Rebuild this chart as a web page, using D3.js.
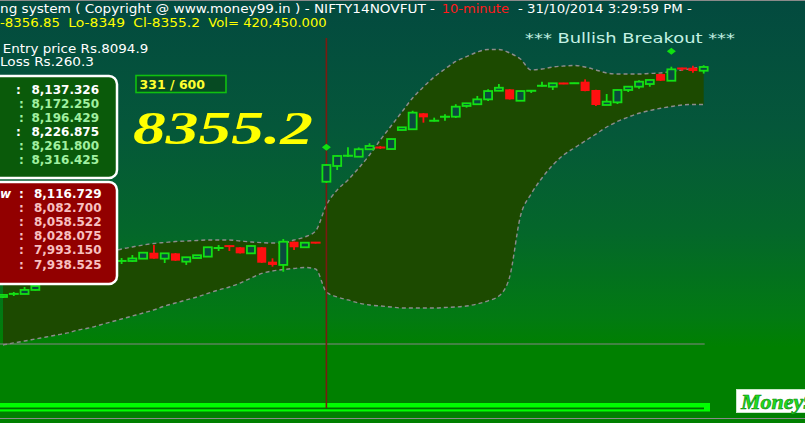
<!DOCTYPE html>
<html><head><meta charset="utf-8">
<script src="https://cdn.jsdelivr.net/npm/d3@7"></script>
<style>html,body{margin:0;padding:0;background:#008000;overflow:hidden}svg{display:block}</style>
</head><body>
<svg id="c" width="805" height="423"></svg>
<script>
// ---------- DATA ----------
const opens = [
8139.1, 8141.9, 8141.9, 8145.7, 8151.5, 8154.0, 8156.5, 8155.0, 8159.5, 8162.5,
8166.0, 8172.9, 8172.9, 8175.1, 8180.7, 8175.1, 8180.1, 8172.3, 8175.7, 8177.0,
8185.0, 8187.0, 8185.8, 8180.1, 8185.8, 8172.3, 8169.2, 8191.0, 8185.8, 8190.5,
8247.4, 8262.2, 8271.6, 8270.9, 8277.9, 8280.0, 8278.1, 8296.0, 8296.7, 8311.7,
8304.5, 8308.3, 8308.5, 8318.6, 8320.2, 8324.8, 8332.9, 8334.2, 8323.5, 8332.6,
8337.3, 8336.7, 8340.2, 8339.7, 8341.4, 8333.6, 8319.5, 8322.0, 8333.6, 8336.7,
8339.2, 8348.6, 8342.3, 8354.3, 8354.5, 8351.7];
const highs = [
8141.9, 8143.8, 8148.5, 8150.0, 8155.0, 8157.5, 8158.0, 8160.5, 8164.0, 8167.0,
8171.5, 8175.7, 8178.5, 8181.4, 8187.9, 8180.4, 8180.4, 8176.7, 8178.5, 8186.1,
8187.9, 8187.5, 8186.0, 8187.5, 8186.0, 8175.4, 8193.6, 8191.2, 8190.4, 8190.8,
8264.1, 8272.5, 8279.7, 8279.6, 8283.5, 8281.0, 8287.8, 8298.7, 8314.1, 8312.0,
8307.6, 8310.8, 8320.2, 8321.4, 8328.0, 8334.2, 8339.2, 8334.4, 8332.8, 8333.3,
8341.4, 8340.2, 8340.4, 8340.4, 8343.6, 8333.8, 8329.8, 8334.1, 8337.0, 8342.7,
8343.3, 8348.8, 8355.5, 8354.5, 8356.4, 8356.85];
const lows = [
8138.1, 8140.0, 8141.9, 8145.2, 8151.0, 8153.0, 8154.0, 8154.5, 8158.5, 8161.5,
8165.0, 8170.1, 8172.0, 8174.8, 8175.1, 8171.0, 8173.0, 8169.2, 8175.5, 8176.7,
8182.3, 8182.3, 8180.0, 8179.5, 8171.0, 8167.6, 8162.8, 8183.3, 8185.6, 8189.3,
8246.2, 8258.4, 8270.6, 8270.6, 8277.7, 8278.1, 8277.8, 8295.8, 8296.5, 8302.9,
8304.0, 8304.7, 8307.3, 8317.0, 8320.0, 8323.2, 8332.6, 8324.6, 8323.3, 8330.8,
8336.9, 8333.6, 8339.0, 8339.5, 8332.4, 8318.6, 8319.3, 8320.4, 8331.7, 8334.8,
8336.7, 8342.1, 8342.1, 8351.7, 8349.8, 8349.0];
const closes = [
8141.0, 8142.1, 8145.7, 8149.4, 8154.0, 8156.5, 8155.0, 8159.5, 8162.5, 8166.0,
8170.0, 8173.0, 8175.3, 8180.7, 8175.1, 8180.1, 8173.2, 8176.4, 8178.3, 8185.8,
8185.2, 8186.8, 8180.1, 8187.0, 8171.3, 8169.2, 8191.0, 8185.8, 8190.1, 8189.8,
8263.1, 8271.6, 8272.0, 8277.9, 8281.0, 8279.1, 8287.5, 8298.5, 8312.3, 8307.9,
8304.9, 8308.6, 8317.9, 8321.1, 8324.8, 8332.6, 8335.7, 8324.8, 8332.6, 8333.1,
8337.8, 8339.9, 8339.2, 8340.2, 8332.6, 8319.5, 8322.6, 8333.6, 8336.7, 8341.4,
8343.0, 8342.3, 8353.0, 8353.3, 8351.4, 8355.2];
const bandUpper = [
8155.1, 8156.9, 8158.8, 8160.7, 8163.5, 8166.3, 8169.2, 8172.0, 8175.7, 8178.5,
8181.4, 8184.2, 8186.1, 8187.9, 8189.4, 8190.3, 8191.2, 8191.7, 8192.2, 8192.6,
8192.6, 8192.6, 8191.7, 8190.8, 8190.1, 8189.8, 8189.8, 8192.6, 8195.5, 8201.1,
8225.5, 8239.6, 8249.0, 8260.3, 8272.5, 8286.6, 8299.8, 8312.9, 8326.1, 8336.4,
8345.8, 8353.3, 8360.4, 8364.9, 8369.3, 8371.7, 8371.7, 8368.4, 8362.7, 8352.4,
8353.3, 8355.2, 8356.1, 8356.6, 8355.2, 8352.4, 8349.6, 8348.6, 8348.6, 8348.6,
8349.1, 8349.6, 8351.0, 8352.4, 8353.8, 8355.5];
const bandLower = [
8094.0, 8095.9, 8097.7, 8099.6, 8101.5, 8103.4, 8105.3, 8108.1, 8110.0, 8112.8,
8115.6, 8118.4, 8121.2, 8124.0, 8126.9, 8130.6, 8133.4, 8136.3, 8139.1, 8142.4,
8145.7, 8148.5, 8152.2, 8156.9, 8161.2, 8163.5, 8164.9, 8165.9, 8166.8, 8165.4,
8143.8, 8139.1, 8136.3, 8133.4, 8131.6, 8130.6, 8129.7, 8128.7, 8128.7, 8128.7,
8128.7, 8129.2, 8129.7, 8130.6, 8132.5, 8135.5, 8140.0, 8158.0, 8215.0, 8236.0,
8250.9, 8263.1, 8272.5, 8279.1, 8285.7, 8292.2, 8298.8, 8304.0, 8308.2, 8311.7,
8314.3, 8316.4, 8318.1, 8319.5, 8320.0, 8320.0];
const entryPrice = 8094.9;
const lastClose = 8355.2;
const breakoutIndex = 30;
const signalIndex = [30, 62];
const signalPrice = [8279.7, 8369.9];
const targetValues = ["8,137.326", "8,172.250", "8,196.429", "8,226.875", "8,261.800", "8,316.425"];
const targetHighlight = [true, false, false, true, false, false];
const stopValues = ["8,116.729", "8,082.700", "8,058.522", "8,028.075", "7,993.150", "7,938.525"];
const stopHighlight = [true, false, false, false, false, false];

// ---------- SETUP ----------
const W = 805, H = 423;
const svg = d3.select("#c");
const n = closes.length;
const x = d3.scaleLinear().domain([0, n - 1]).range([3, 703.7]);
const y = d3.scaleLinear().domain([entryPrice, lastClose]).range([344, 67]);
const FONT = "'DejaVu Sans', Verdana, sans-serif";

const defs = svg.append("defs");
const bg = defs.append("linearGradient").attr("id", "bg")
  .attr("gradientUnits", "userSpaceOnUse").attr("x1", 0).attr("y1", 0).attr("x2", 0).attr("y2", H);
[[0, "#034a3f"], [0.3, "#05573a"], [0.55, "#04672a"], [0.75, "#027a12"], [0.82, "#008000"], [1, "#008000"]]
  .forEach(([o, c]) => bg.append("stop").attr("offset", o).attr("stop-color", c));

svg.append("rect").attr("width", W).attr("height", H).attr("fill", "url(#bg)");
svg.append("line").attr("x1", 0).attr("x2", W).attr("y1", 0.5).attr("y2", 0.5).attr("stroke", "#8a8a8a");

// ---------- BAND ----------
const idx = d3.range(n);
const area = d3.area().x(i => x(i)).y0(i => y(bandLower[i])).y1(i => y(bandUpper[i])).curve(d3.curveMonotoneX);
svg.append("path").attr("d", area(idx)).attr("fill", "#1c4a00");
const lineU = d3.line().x(i => x(i)).y(i => y(bandUpper[i])).curve(d3.curveMonotoneX);
const lineL = d3.line().x(i => x(i)).y(i => y(bandLower[i])).curve(d3.curveMonotoneX);
[lineU, lineL].forEach(l => svg.append("path").attr("d", l(idx)).attr("fill", "none")
  .attr("stroke", "#8c8c8c").attr("stroke-width", 1.4).attr("stroke-dasharray", "4,3"));

// entry line
svg.append("line").attr("x1", 0).attr("x2", x(n - 1) + 1).attr("y1", y(entryPrice)).attr("y2", y(entryPrice))
  .attr("stroke", "#858585").attr("stroke-width", 1);

// bottom bars
svg.append("rect").attr("x", 0).attr("y", 403).attr("width", 710).attr("height", 8.5).attr("fill", "#00ff00");
svg.append("rect").attr("x", 0).attr("y", 407.5).attr("width", 704).attr("height", 1.8).attr("fill", "#007000");
svg.append("line").attr("x1", 0).attr("x2", W).attr("y1", 418.5).attr("y2", 418.5).attr("stroke", "#8a8a8a");

// vertical breakout line
svg.append("line").attr("x1", x(breakoutIndex)).attr("x2", x(breakoutIndex)).attr("y1", 38).attr("y2", 408)
  .attr("stroke", "#7a1a10").attr("stroke-width", 1.6);

// ---------- CANDLES ----------
const cg = svg.append("g");
idx.forEach(i => {
  const up = closes[i] >= opens[i];
  const col = up ? "#14e014" : "#ff1010";
  const cx = x(i);
  cg.append("line").attr("x1", cx).attr("x2", cx).attr("y1", y(highs[i])).attr("y2", y(lows[i]))
    .attr("stroke", col).attr("stroke-width", 1.8);
  const top = y(Math.max(opens[i], closes[i])), bot = y(Math.min(opens[i], closes[i]));
  const h = bot - top;
  if (h < 2) {
    cg.append("line").attr("x1", cx - 5).attr("x2", cx + 5).attr("y1", (top + bot) / 2).attr("y2", (top + bot) / 2)
      .attr("stroke", col).attr("stroke-width", 2);
  } else if (up) {
    cg.append("rect").attr("x", cx - 4).attr("y", top).attr("width", 8).attr("height", h)
      .attr("fill", "#0a4a3e").attr("stroke", col).attr("stroke-width", 1.8);
  } else {
    cg.append("rect").attr("x", cx - 4.5).attr("y", top).attr("width", 9).attr("height", h).attr("fill", col);
  }
});
// signal diamonds
signalIndex.forEach((si, k) => {
  const cx = x(si), cy = y(signalPrice[k]);
  svg.append("path").attr("d", `M${cx - 4.5},${cy}L${cx},${cy - 3.5}L${cx + 4.5},${cy}L${cx},${cy + 3.5}Z`).attr("fill", "#10e010");
});

// ---------- PANELS ----------
svg.append("rect").attr("x", -20).attr("y", 76).attr("width", 137).attr("height", 102).attr("rx", 8)
  .attr("fill", "#0a5a0a").attr("stroke", "#ffffff").attr("stroke-width", 2.5);
targetValues.forEach((v, k) => {
  const by = 93.5 + k * 14;
  const col = targetHighlight[k] ? "#ffffff" : "#a0f0a0";
  svg.append("text").attr("x", targetHighlight[k] ? 16 : 19).attr("y", by).text(":")
    .attr("fill", col).attr("font-family", FONT).attr("font-weight", "bold").attr("font-size", 12);
  svg.append("text").attr("x", 99).attr("y", by).attr("text-anchor", "end").text(v)
    .attr("fill", col).attr("font-family", FONT).attr("font-weight", "bold").attr("font-size", 12);
});
svg.append("rect").attr("x", -20).attr("y", 182).attr("width", 137).attr("height", 102).attr("rx", 8)
  .attr("fill", "#920000").attr("stroke", "#ffffff").attr("stroke-width", 2.5);
stopValues.forEach((v, k) => {
  const by = 197.5 + k * 14.2;
  const col = stopHighlight[k] ? "#ffffff" : "#f8c0c0";
  if (k === 0) svg.append("text").attr("x", 0).attr("y", by).text("w")
    .attr("fill", col).attr("font-family", FONT).attr("font-weight", "bold").attr("font-size", 12).attr("font-style", "italic");
  svg.append("text").attr("x", 19).attr("y", by).text(":")
    .attr("fill", col).attr("font-family", FONT).attr("font-weight", "bold").attr("font-size", 12);
  svg.append("text").attr("x", 101.5).attr("y", by).attr("text-anchor", "end").text(v)
    .attr("fill", col).attr("font-family", FONT).attr("font-weight", "bold").attr("font-size", 12);
});

// ---------- TEXTS ----------
function txt(s, xx, yy, col, size, len, extra) {
  const t = svg.append("text").attr("x", xx).attr("y", yy).text(s).attr("fill", col)
    .attr("font-family", FONT).attr("font-size", size).style("white-space", "pre");
  if (len) t.attr("textLength", len).attr("lengthAdjust", "spacingAndGlyphs");
  if (extra) extra(t);
  return t;
}
txt("ng system ( Copyright @ www.money99.in ) - NIFTY14NOVFUT -", 0, 13, "#ffffff", 12.5, 435);
txt("10-minute", 441.7, 13, "#ff1a1a", 12.5, 67.3);
txt("- 31/10/2014 3:29:59 PM -", 518, 13, "#ffffff", 12.5, 173.7);
txt("-8356.85", 0, 26.5, "#ffff00", 12.5, 60);
txt("Lo-8349", 68.3, 26.5, "#ffff00", 12.5, 56.7);
txt("Cl-8355.2", 133.3, 26.5, "#ffff00", 12.5, 66.7);
txt("Vol= 420,450.000", 208.3, 26.5, "#ffff00", 12.5, 118.4);
txt("Entry price Rs.8094.9", 2.7, 52.5, "#ffffff", 12, 145.6);
txt("Loss Rs.260.3", 0, 66, "#ffffff", 12, 94);
txt("*** Bullish Breakout ***", 525, 43, "#c4f2e4", 14, 210);

// counter box
svg.append("rect").attr("x", 136).attr("y", 75.5).attr("width", 90).attr("height", 17)
  .attr("fill", "#064a22").attr("stroke", "#10c010").attr("stroke-width", 1.6);
txt("331 / 600", 139.5, 88.5, "#ffff30", 12, 65.5, t => t.attr("font-weight", "bold"));

// big price
svg.append("text").attr("x", 133).attr("y", 143.5).text(d3.format(".1f")(lastClose))
  .attr("fill", "#ffff00").attr("font-family", "'Liberation Serif', 'Times New Roman', serif")
  .attr("font-weight", "bold").attr("font-style", "italic").attr("font-size", 46)
  .attr("textLength", 180).attr("lengthAdjust", "spacingAndGlyphs");

// logo
svg.append("rect").attr("x", 736.5).attr("y", 389.5).attr("width", 80).attr("height", 23)
  .attr("fill", "#ffffff").attr("stroke", "#c8e8c8").attr("stroke-width", 1);
svg.append("text").attr("x", 741).attr("y", 409).text("Money99")
  .attr("fill", "#1edc1e").attr("stroke", "#0a8a0a").attr("stroke-width", 0.6)
  .attr("font-family", "'Liberation Serif', serif").attr("font-weight", "bold").attr("font-style", "italic")
  .attr("font-size", 22);
</script>
</body></html>
